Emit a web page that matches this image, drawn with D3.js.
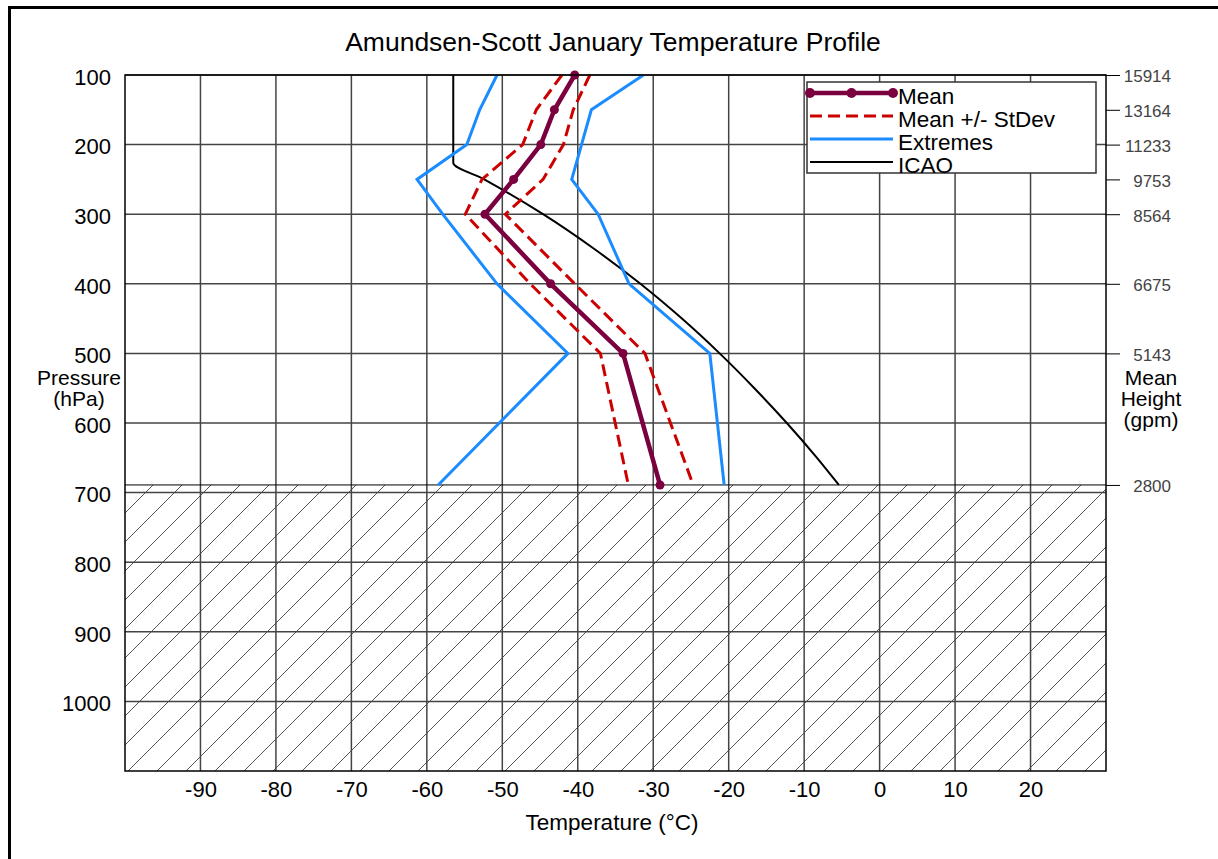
<!DOCTYPE html>
<html>
<head>
<meta charset="utf-8">
<script src="https://cdn.jsdelivr.net/npm/d3@7"></script>
<style>
  body { margin: 0; background: #fff; overflow: hidden; }
  svg { display: block; font-family: "Liberation Sans", Arial, sans-serif; }
  .grid line { stroke: #444; stroke-width: 1.5; }
  .axis text { fill: #000; font-size: 22px; }
  .haxis text { fill: #444; font-size: 17px; }
</style>
</head>
<body>
<div class="chart"></div>
<script>
const WIDTH = 1218;
const HEIGHT = 859;
const LEFT = 125, RIGHT = 1106, TOP = 75, BOTTOM = 771;

// pressure levels (hPa) of the sounding
var levels = [100, 150, 200, 250, 300, 400, 500, 689];
var meanT = [-40.4, -43.1, -44.9, -48.5, -52.3, -43.6, -34.0, -29.1];
var meanMinusSd = [-42.1, -45.5, -47.3, -52.7, -54.9, -46.3, -37.0, -33.3];
var meanPlusSd = [-38.4, -40.6, -41.9, -44.6, -49.6, -40.4, -31.1, -24.7];
var extremeMin = [-50.7, -53.0, -54.7, -61.3, -57.9, -50.7, -41.3, -58.5];
var extremeMax = [-31.3, -38.2, -39.5, -40.8, -37.3, -33.2, -22.5, -20.6];

// ICAO standard atmosphere
var icaoP = [100, 150, 200, 226, 250, 300, 350, 400, 450, 500, 550, 600, 650, 689];
var icaoT = [-56.5, -56.5, -56.5, -56.5, -52.4, -44.6, -37.8, -31.7, -26.2, -21.2, -16.6, -12.3, -8.3, -5.4];

// right axis: mean geopotential heights
var heightLevels = [100, 150, 200, 250, 300, 400, 500, 689];
var heightLabels = ['15914', '13164', '11233', '9753', '8564', '6675', '5143', '2800'];

var pressureTicks = [100, 200, 300, 400, 500, 600, 700, 800, 900, 1000];
var tempTicks = [-90, -80, -70, -60, -50, -40, -30, -20, -10, 0, 10, 20];
var surfaceP = 689;

var xScale = d3.scaleLinear().domain([-100, 30]).range([LEFT, RIGHT]);
var yScale = d3.scaleLinear().domain([100, 1100]).range([TOP, BOTTOM]);

var svg = d3.select('.chart').append('svg')
    .attr('width', WIDTH)
    .attr('height', HEIGHT);

function plainNumber(d) {
    return String(d);
}

function setupDefs() {
    var pat = svg.append('defs').append('pattern')
        .attr('id', 'hatch')
        .attr('patternUnits', 'userSpaceOnUse')
        .attr('width', 29).attr('height', 29);
    pat.append('path')
        .attr('d', 'M0,29 L29,0 M-2,2 L2,-2 M27,31 L31,27')
        .attr('stroke', '#555').attr('stroke-width', 1);
}

function drawFrame() {
    svg.append('path')
        .attr('d', 'M9.5,' + (HEIGHT + 5) + ' L9.5,7.5 L' + (WIDTH + 5) + ',7.5')
        .attr('fill', 'none').attr('stroke', '#000').attr('stroke-width', 3);
}

function drawHatch() {
    svg.append('rect')
        .attr('x', LEFT).attr('y', yScale(surfaceP))
        .attr('width', RIGHT - LEFT).attr('height', BOTTOM - yScale(surfaceP))
        .attr('fill', 'url(#hatch)');
}

function drawGrid() {
    var g = svg.append('g').attr('class', 'grid');
    g.selectAll('.vx').data(tempTicks).enter().append('line')
        .attr('x1', function (d) { return xScale(d); })
        .attr('x2', function (d) { return xScale(d); })
        .attr('y1', TOP).attr('y2', BOTTOM);
    g.selectAll('.hy').data(pressureTicks).enter().append('line')
        .attr('x1', LEFT).attr('x2', RIGHT)
        .attr('y1', function (d) { return yScale(d); })
        .attr('y2', function (d) { return yScale(d); });
}

function drawAxes() {
    var yAxis = d3.axisLeft(yScale).tickValues(pressureTicks).tickSize(0).tickPadding(14)
        .tickFormat(plainNumber);
    var yG = svg.append('g').attr('class', 'axis').attr('transform', 'translate(' + LEFT + ',0)').call(yAxis);
    yG.select('.domain').remove();
    yG.selectAll('text').attr('dy', '0.42em');

    var xAxis = d3.axisBottom(xScale).tickValues(tempTicks).tickSize(0).tickPadding(10)
        .tickFormat(plainNumber);
    var xG = svg.append('g').attr('class', 'axis').attr('transform', 'translate(0,' + BOTTOM + ')').call(xAxis);
    xG.select('.domain').remove();

    var hAxis = d3.axisRight(yScale).tickValues(heightLevels).tickSize(14)
        .tickFormat(function (d, i) { return heightLabels[i]; });
    var hG = svg.append('g').attr('class', 'haxis').attr('transform', 'translate(' + RIGHT + ',0)').call(hAxis);
    hG.select('.domain').remove();
    hG.selectAll('line').attr('stroke', '#000').attr('stroke-width', 1);
    hG.selectAll('text').attr('x', 65).attr('text-anchor', 'end').attr('dy', '0.4em');

    // surface line across the plot
    svg.append('line')
        .attr('x1', LEFT).attr('x2', RIGHT)
        .attr('y1', yScale(surfaceP)).attr('y2', yScale(surfaceP))
        .attr('stroke', '#000').attr('stroke-width', 1);
}

function drawSeries(values, color, width, dash) {
    var line = d3.line()
        .x(function (d) { return xScale(d); })
        .y(function (d, i) { return yScale(levels[i]); });
    svg.append('path')
        .attr('d', line(values))
        .attr('fill', 'none')
        .attr('stroke', color)
        .attr('stroke-width', width)
        .attr('stroke-dasharray', dash || null);
}

function drawIcao() {
    var line = d3.line()
        .x(function (d) { return xScale(d); })
        .y(function (d, i) { return yScale(icaoP[i]); })
        .curve(d3.curveMonotoneY);
    svg.append('path')
        .attr('d', line(icaoT))
        .attr('fill', 'none').attr('stroke', '#000').attr('stroke-width', 2);
}

function drawMeanMarkers() {
    svg.append('g').selectAll('circle').data(meanT).enter().append('circle')
        .attr('cx', function (d) { return xScale(d); })
        .attr('cy', function (d, i) { return yScale(levels[i]); })
        .attr('r', 4.5)
        .attr('fill', '#7a0040');
}

function drawLegend() {
    var g = svg.append('g').attr('transform', 'translate(807,82)');
    g.append('rect').attr('width', 289).attr('height', 91)
        .attr('fill', '#fff').attr('stroke', '#333').attr('stroke-width', 1.5);
    var items = [
        { label: 'Mean', color: '#7a0040', width: 4.5 },
        { label: 'Mean +/- StDev', color: '#cc0000', width: 3, dash: '12,6' },
        { label: 'Extremes', color: '#1a8cff', width: 3 },
        { label: 'ICAO', color: '#000', width: 2 }
    ];
    items.forEach(function (it, i) {
        var y = 11 + i * 23;
        g.append('line').attr('x1', 3).attr('x2', 86).attr('y1', y).attr('y2', y)
            .attr('stroke', it.color).attr('stroke-width', it.width)
            .attr('stroke-dasharray', it.dash || null);
        if (i === 0) {
            [3, 44.5, 86].forEach(function (cx) {
                g.append('circle').attr('cx', cx).attr('cy', y).attr('r', 5).attr('fill', it.color);
            });
        }
        g.append('text').attr('x', 91).attr('y', y + 11)
            .attr('font-size', 22.5).text(it.label);
    });
}

function drawBorder() {
    svg.append('rect')
        .attr('x', LEFT).attr('y', TOP)
        .attr('width', RIGHT - LEFT).attr('height', BOTTOM - TOP)
        .attr('fill', 'none').attr('stroke', '#000').attr('stroke-width', 1.5);
}

function drawTitles() {
    svg.append('text').attr('x', 613).attr('y', 51).attr('text-anchor', 'middle')
        .attr('font-size', 26.5).text('Amundsen-Scott January Temperature Profile');
    svg.append('text').attr('x', 612).attr('y', 830).attr('text-anchor', 'middle')
        .attr('font-size', 22.5).text('Temperature (\u00B0C)');
    var p = svg.append('text').attr('text-anchor', 'middle').attr('font-size', 21);
    p.append('tspan').attr('x', 79).attr('y', 385).text('Pressure');
    p.append('tspan').attr('x', 79).attr('y', 406).text('(hPa)');
    var h = svg.append('text').attr('text-anchor', 'middle').attr('font-size', 21);
    h.append('tspan').attr('x', 1151).attr('y', 385).text('Mean');
    h.append('tspan').attr('x', 1151).attr('y', 406).text('Height');
    h.append('tspan').attr('x', 1151).attr('y', 427).text('(gpm)');
}

setupDefs();
drawFrame();
drawHatch();
drawGrid();
drawAxes();
drawIcao();
drawSeries(extremeMin, '#1a8cff', 3);
drawSeries(extremeMax, '#1a8cff', 3);
drawSeries(meanMinusSd, '#cc0000', 3, '12,6');
drawSeries(meanPlusSd, '#cc0000', 3, '12,6');
drawSeries(meanT, '#7a0040', 4.5);
drawMeanMarkers();
drawLegend();
drawBorder();
drawTitles();
</script>
</body>
</html>
